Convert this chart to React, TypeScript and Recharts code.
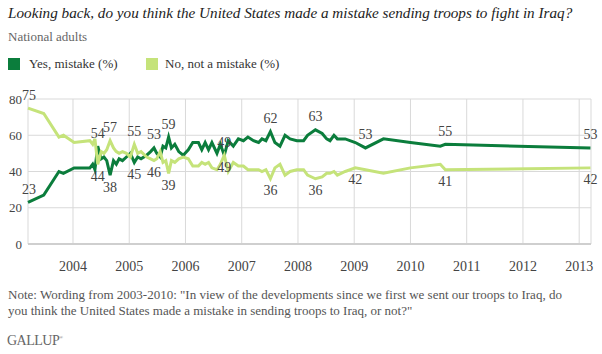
import { CartesianGrid, LabelList, Line, LineChart, XAxis, YAxis } from "recharts"

// poll dates as decimal years
const dates = [
  2003.2, 2003.48, 2003.75, 2003.83, 2004.02, 2004.3, 2004.35, 2004.39, 2004.44, 2004.5,
  2004.55, 2004.6, 2004.66, 2004.72, 2004.77, 2004.82, 2004.88, 2004.95, 2005.02, 2005.09,
  2005.15, 2005.21, 2005.31, 2005.38, 2005.44, 2005.49, 2005.55, 2005.6, 2005.65, 2005.7,
  2005.75, 2005.81, 2005.88, 2005.96, 2006.05, 2006.13, 2006.23, 2006.29, 2006.35, 2006.41,
  2006.47, 2006.56, 2006.62, 2006.69, 2006.76, 2006.85, 2006.94, 2007.03, 2007.11, 2007.21,
  2007.3, 2007.36, 2007.43, 2007.51, 2007.59, 2007.68, 2007.77, 2007.86, 2007.98, 2008.1,
  2008.17, 2008.31, 2008.43, 2008.51, 2008.57, 2008.64, 2008.7, 2008.84, 2009.02, 2009.2,
  2009.52, 2010.0, 2010.53, 2010.62, 2013.2,
]

const yesMistake = [
  23, 27, 40, 39, 42, 42, 44, 41, 54, 47,
  48, 46, 38, 46, 44, 47, 46, 48, 50, 45,
  48, 47, 49, 51, 53, 50, 48, 54, 53, 59,
  53, 55, 51, 49, 52, 56, 56, 52, 56, 52,
  56, 50, 55, 49, 57, 54, 58, 57, 59, 57,
  56, 58, 57, 62, 56, 54, 60, 58, 57, 57,
  60, 63, 61, 58, 57, 60, 58, 58, 56, 53,
  58, 56, 54, 55, 53,
]

const noMistake = [
  75, 72, 59, 60, 56, 57, 55, 58, 44, 51,
  50, 52, 57, 53, 51, 50, 51, 50, 48, 55,
  50, 51, 48, 47, 46, 47, 51, 45, 46, 39,
  46, 45, 47, 48, 47, 43, 43, 45, 44, 45,
  42, 41, 44, 49, 40, 45, 43, 43, 41, 41,
  41, 40, 41, 36, 42, 44, 38, 40, 41, 41,
  38, 36, 37, 39, 39, 40, 38, 40, 42, 41,
  39, 42, 44, 41, 42,
]

const yearTicks = [2004, 2005, 2006, 2007, 2008, 2009, 2010, 2011, 2012, 2013]
const valueTicks = [0, 20, 40, 60, 80]

// [point index, side, x shift]
const yesLabels: [number, string, number][] = [
  [0, "up", 1], [8, "up", 0], [12, "down", 0], [19, "down", 0], [24, "up", 0],
  [29, "up", 0], [43, "up", 0], [53, "up", 0], [61, "up", 0], [69, "up", 0],
  [73, "up", 0], [74, "up", 0],
]
const noLabels: [number, string, number][] = [
  [0, "up", 1], [8, "down", 0], [12, "up", 0], [19, "up", 0], [24, "down", 0],
  [29, "down", 0], [43, "down", 0], [53, "down", 0], [61, "down", 0], [68, "down", 0],
  [73, "down", 0], [74, "down", 0],
]

const data = dates.map((t, i) => ({ t, yes: yesMistake[i], no: noMistake[i] }))

const DARK = "#0b7d3c"
const LIGHT = "#c5e37a"
const serif = "'Liberation Serif', 'Times New Roman', serif"

function makeLabel(spec: [number, string, number][]) {
  return (props: any) => {
    const { x, y, value, index } = props
    const hit = spec.find((s) => s[0] === index)
    if (!hit) return null
    const dy = hit[1] === "up" ? -13 : 12
    return (
      <text
        x={x + hit[2]}
        y={y + dy}
        textAnchor="middle"
        dominantBaseline="central"
        fontFamily={serif}
        fontSize={14}
        fill="#444"
      >
        {value}
      </text>
    )
  }
}

export default function App() {
  return (
    <div style={{ position: "absolute", left: 0, top: 0, width: 602, height: 354, background: "#fff", fontFamily: serif }}>
      <div style={{ position: "absolute", left: 8, top: 4, fontSize: 15.2, lineHeight: "18px", fontStyle: "italic", color: "#222", whiteSpace: "nowrap" }}>
        Looking back, do you think the United States made a mistake sending troops to fight in Iraq?
      </div>
      <div style={{ position: "absolute", left: 8, top: 28, fontSize: 13, lineHeight: "18px", color: "#666" }}>
        National adults
      </div>
      <div style={{ position: "absolute", left: 8, top: 58, width: 12, height: 12, background: DARK }} />
      <div style={{ position: "absolute", left: 29, top: 55, fontSize: 13, lineHeight: "18px", color: "#333" }}>
        Yes, mistake (%)
      </div>
      <div style={{ position: "absolute", left: 146, top: 58, width: 12, height: 12, background: LIGHT }} />
      <div style={{ position: "absolute", left: 165, top: 55, fontSize: 13, lineHeight: "18px", color: "#333" }}>
        No, not a mistake (%)
      </div>

      <div style={{ position: "absolute", left: 0, top: 0 }}>
        <LineChart width={602} height={354} data={data} margin={{ top: 99, right: 11, left: 0, bottom: 80 }}>
          <CartesianGrid stroke="#d9d9d9" />
          <XAxis
            dataKey="t"
            type="number"
            domain={[2003.2, 2013.21]}
            ticks={yearTicks}
            height={30}
            tickLine={false}
            tickSize={0}
            tickMargin={17}
            axisLine={{ stroke: "#cfcfcf", strokeWidth: 2 }}
            tick={{ fill: "#444", fontSize: 14, fontFamily: serif }}
          />
          <YAxis
            domain={[0, 80]}
            ticks={valueTicks}
            width={28}
            axisLine={false}
            tickLine={false}
            tickSize={0}
            tickMargin={6}
            tick={{ fill: "#444", fontSize: 13, fontFamily: serif }}
          />
          <Line type="linear" dataKey="yes" stroke={DARK} strokeWidth={3} dot={false} isAnimationActive={false}>
            <LabelList dataKey="yes" content={makeLabel(yesLabels)} />
          </Line>
          <Line type="linear" dataKey="no" stroke={LIGHT} strokeWidth={3} dot={false} isAnimationActive={false}>
            <LabelList dataKey="no" content={makeLabel(noLabels)} />
          </Line>
        </LineChart>
      </div>

      <div style={{ position: "absolute", left: 8, top: 287, fontSize: 13, lineHeight: "16px", color: "#555", width: 590 }}>
        Note: Wording from 2003-2010: "In view of the developments since we first we sent our troops to Iraq, do
        <br />
        you think the United States made a mistake in sending troops to Iraq, or not?"
      </div>
      <div style={{ position: "absolute", left: 7, top: 330, fontSize: 14, lineHeight: "16px", color: "#666", letterSpacing: -0.5 }}>
        GALLUP<sup style={{ fontSize: 5 }}>®</sup>
      </div>
    </div>
  )
}
